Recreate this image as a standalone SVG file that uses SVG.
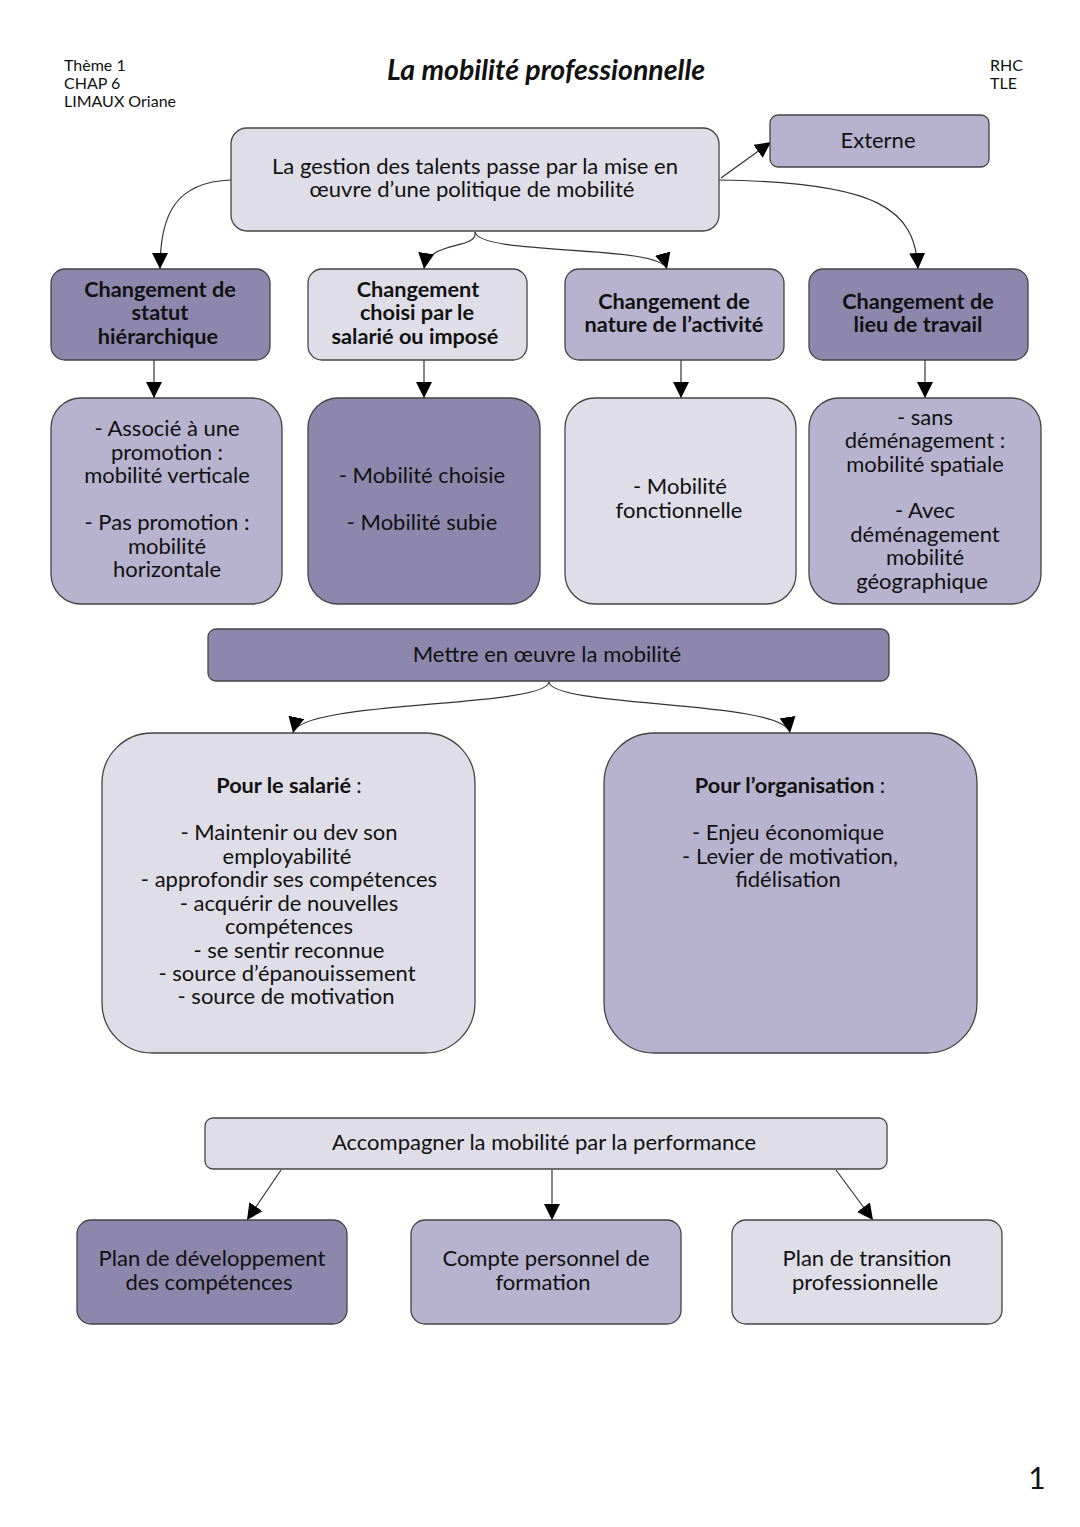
<svg xmlns="http://www.w3.org/2000/svg" width="1080" height="1527" viewBox="0 0 1080 1527">
<defs>
<marker id="ah" viewBox="0 0 16 16" refX="16" refY="8" markerWidth="16" markerHeight="16" markerUnits="userSpaceOnUse" orient="auto">
<path d="M0,0 L16,8 L0,16 Z" fill="#000"/>
</marker>
<style>
text{font-family:Lato,"Noto Sans","Liberation Sans",sans-serif;fill:#111;text-anchor:middle}
.hd{font-size:16px;text-anchor:start}
.t{font-size:22px}
.s{font-size:21.7px;font-weight:bold}
.dark{fill:#8d87ae;stroke:#444;stroke-width:1.3}
.mid{fill:#b7b3ce;stroke:#444;stroke-width:1.3}
.light{fill:#dfdde8;stroke:#444;stroke-width:1.3}
.c{fill:none;stroke:#333;stroke-width:1.2;marker-end:url(#ah)}
</style>
</defs>
<rect width="1080" height="1527" fill="#fff"/>
<g id="header">
<text class="hd" x="64" y="71">Thème 1</text>
<text class="hd" x="64" y="89">CHAP 6</text>
<text class="hd" x="64" y="107">LIMAUX Oriane</text>
<text x="546" y="80" style="font-size:28.5px;font-weight:bold;font-style:italic">La mobilité professionnelle</text>
<text class="hd" x="990" y="71">RHC</text>
<text class="hd" x="990" y="89">TLE</text>
<text x="1037" y="1489" style="font-size:30px">1</text>
</g>
<g id="connectors">
<path class="c" d="M231,180 C175,182 160,215 160,269"/>
<path class="c" d="M475,232 C478,250 428,240 424,269"/>
<path class="c" d="M475,232 C480,256 660,244 667,269"/>
<path class="c" d="M719,180 C880,182 915,210 918,269"/>
<path class="c" d="M721,178 L771,142"/>
<path class="c" d="M154,360 L154,398"/>
<path class="c" d="M424,360 L424,398"/>
<path class="c" d="M681,360 L681,398"/>
<path class="c" d="M925,360 L925,398"/>
<path class="c" d="M549,682 C545,708 300,700 293,733"/>
<path class="c" d="M549,682 C553,708 785,700 790,733"/>
<path class="c" d="M281,1170 L247,1220"/>
<path class="c" d="M552,1170 L552,1220"/>
<path class="c" d="M836,1170 L873,1220"/>
</g>
<g id="n-top">
<rect class="light" x="231" y="128" width="488" height="103" rx="16"/>
<text class="t" x="475" y="174">La gestion des talents passe par la mise en</text>
<text class="t" x="472" y="197">œuvre d’une politique de mobilité</text>
</g>
<g id="n-externe">
<rect class="mid" x="770" y="115" width="219" height="52" rx="8"/>
<text class="t" x="878" y="148">Externe</text>
</g>
<g id="n-statut">
<rect class="dark" x="51" y="269" width="219" height="91" rx="14"/>
<text class="s" x="160" y="297">Changement de</text>
<text class="s" x="160" y="320">statut</text>
<text class="s" x="158" y="344">hiérarchique</text>
</g>
<g id="n-choisi">
<rect class="light" x="308" y="269" width="219" height="91" rx="14"/>
<text class="s" x="418" y="297">Changement</text>
<text class="s" x="417" y="320">choisi  par le</text>
<text class="s" x="415" y="344">salarié ou imposé</text>
</g>
<g id="n-nature">
<rect class="mid" x="565" y="269" width="219" height="91" rx="14"/>
<text class="s" x="674" y="309">Changement de</text>
<text class="s" x="674" y="332">nature de l’activité</text>
</g>
<g id="n-lieu">
<rect class="dark" x="809" y="269" width="219" height="91" rx="14"/>
<text class="s" x="918" y="309">Changement de</text>
<text class="s" x="918" y="332">lieu de travail</text>
</g>
<g id="n-verticale">
<rect class="mid" x="51" y="398" width="231" height="206" rx="30"/>
<text class="t" x="167" y="436">- Associé à une</text>
<text class="t" x="167" y="460">promotion :</text>
<text class="t" x="167" y="483">mobilité verticale</text>
<text class="t" x="167" y="530">- Pas promotion :</text>
<text class="t" x="167" y="554">mobilité</text>
<text class="t" x="167" y="577">horizontale</text>
</g>
<g id="n-choisie">
<rect class="dark" x="308" y="398" width="232" height="206" rx="30"/>
<text class="t" x="422" y="483">- Mobilité choisie</text>
<text class="t" x="422" y="530">- Mobilité subie</text>
</g>
<g id="n-fonctionnelle">
<rect class="light" x="565" y="398" width="231" height="206" rx="30"/>
<text class="t" x="680" y="494">- Mobilité</text>
<text class="t" x="679" y="518">fonctionnelle</text>
</g>
<g id="n-spatiale">
<rect class="mid" x="809" y="398" width="232" height="206" rx="30"/>
<text class="t" x="925" y="425">- sans</text>
<text class="t" x="925" y="448">déménagement :</text>
<text class="t" x="925" y="472">mobilité spatiale</text>
<text class="t" x="925" y="518">- Avec</text>
<text class="t" x="925" y="542">déménagement</text>
<text class="t" x="925" y="565">mobilité</text>
<text class="t" x="922" y="589">géographique</text>
</g>
<g id="n-mettre">
<rect class="dark" x="208" y="629" width="681" height="52" rx="8"/>
<text class="t" x="547" y="662">Mettre en œuvre la mobilité</text>
</g>
<g id="n-salarie">
<rect class="light" x="102" y="733" width="373" height="320" rx="50"/>
<text class="s" x="289" y="793">Pour le salarié <tspan font-weight="normal">:</tspan></text>
<text class="t" x="289" y="840">- Maintenir ou dev son</text>
<text class="t" x="287" y="864">employabilité</text>
<text class="t" x="289" y="887">- approfondir ses compétences</text>
<text class="t" x="289" y="911">- acquérir de nouvelles</text>
<text class="t" x="289" y="934">compétences</text>
<text class="t" x="289" y="958">- se sentir reconnue</text>
<text class="t" x="287" y="981">- source d’épanouissement</text>
<text class="t" x="286" y="1004">- source de motivation</text>
</g>
<g id="n-organisation">
<rect class="mid" x="604" y="733" width="373" height="320" rx="50"/>
<text class="s" x="790" y="793">Pour l’organisation <tspan font-weight="normal">:</tspan></text>
<text class="t" x="788" y="840">- Enjeu économique</text>
<text class="t" x="790" y="864">- Levier de motivation,</text>
<text class="t" x="788" y="887">fidélisation</text>
</g>
<g id="n-accompagner">
<rect class="light" x="205" y="1118" width="682" height="51" rx="8"/>
<text class="t" x="544" y="1150">Accompagner la mobilité par la performance</text>
</g>
<g id="n-plan-dev">
<rect class="dark" x="77" y="1220" width="270" height="104" rx="14"/>
<text class="t" x="212" y="1266">Plan de développement</text>
<text class="t" x="209" y="1290">des compétences</text>
</g>
<g id="n-cpf">
<rect class="mid" x="411" y="1220" width="270" height="104" rx="14"/>
<text class="t" x="546" y="1266">Compte personnel de</text>
<text class="t" x="543" y="1290">formation</text>
</g>
<g id="n-transition">
<rect class="light" x="732" y="1220" width="270" height="104" rx="14"/>
<text class="t" x="867" y="1266">Plan de transition</text>
<text class="t" x="865" y="1290">professionnelle</text>
</g>
</svg>
